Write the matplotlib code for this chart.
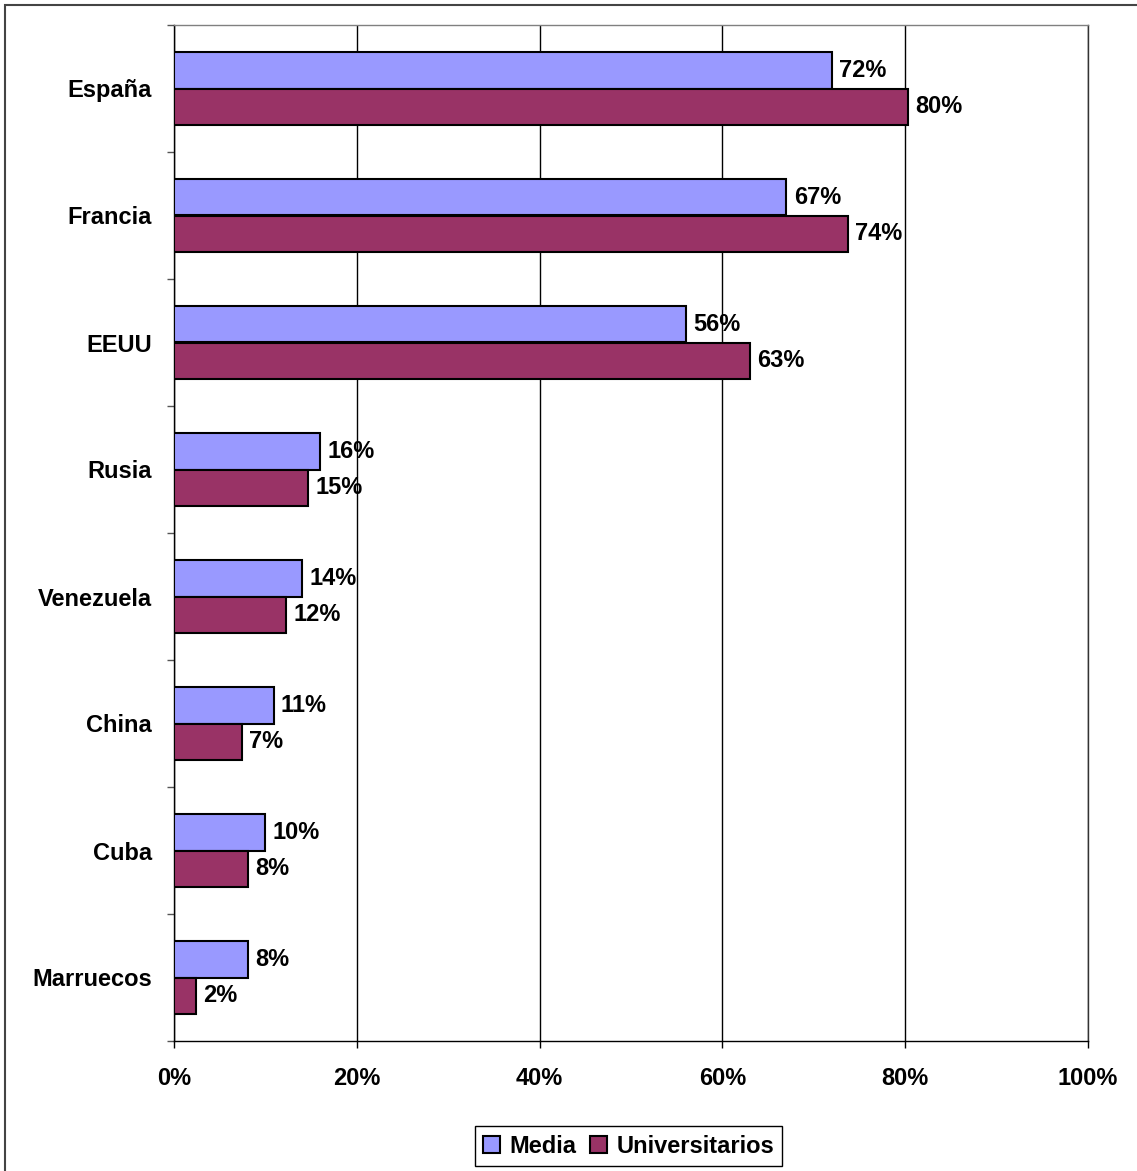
import matplotlib
matplotlib.use("Agg")
import matplotlib.pyplot as plt
import matplotlib.patches as mpatches
import numpy as np

plt.rcParams['font.family'] = ['Liberation Sans', 'DejaVu Sans']
plt.rcParams['font.weight'] = 'bold'

# data
paises = ['España', 'Francia', 'EEUU', 'Rusia', 'Venezuela', 'China', 'Cuba', 'Marruecos']
media = [72.0, 67.0, 56.0, 16.0, 14.0, 10.9, 10.0, 8.1]
universitarios = [80.3, 73.7, 63.0, 14.7, 12.3, 7.4, 8.1, 2.4]
xticks = [0, 20, 40, 60, 80, 100]

color_media = '#9999ff'
color_univ = '#993366'

fig = plt.figure(figsize=(11.37, 11.71), dpi=100)
ax = fig.add_axes([174 / 1137, 1 - 1041 / 1171, (1088 - 174) / 1137, (1041 - 25) / 1171])

y = np.arange(len(paises))
h = 0.29
b1 = ax.barh(y - h / 2, media, height=h, color=color_media, edgecolor='black', linewidth=1.5, zorder=3, label='Media')
b2 = ax.barh(y + h / 2, universitarios, height=h, color=color_univ, edgecolor='black', linewidth=1.5, zorder=3, label='Universitarios')

for i in range(len(paises)):
    ax.text(media[i] + 0.8, y[i] - h / 2, '%d%%' % round(media[i]), va='center', ha='left', fontsize=17, fontweight='bold')
    ax.text(universitarios[i] + 0.8, y[i] + h / 2, '%d%%' % round(universitarios[i]), va='center', ha='left', fontsize=17, fontweight='bold')

ax.set_xlim(0, 100)
ax.set_ylim(len(paises) - 0.5, -0.5)
ax.set_xticks(xticks)
ax.set_xticklabels(['%d%%' % v for v in xticks], fontsize=17, fontweight='bold')
ax.set_yticks(y)
ax.set_yticklabels(paises, fontsize=17, fontweight='bold')
ax.set_yticks(np.arange(-0.5, len(paises)), minor=True)
ax.tick_params(axis='y', which='major', length=0, pad=16)
ax.tick_params(axis='y', which='minor', length=5, width=1, color='#555555')
ax.tick_params(axis='x', which='major', length=5, width=1, pad=14)
ax.grid(axis='x', color='black', linewidth=1, zorder=0)
ax.set_axisbelow(True)

ax.spines['top'].set_color('#808080')
ax.spines['right'].set_color('#333333')
for s in ax.spines.values():
    s.set_linewidth(1)

fig.legend(handles=[b1, b2], loc='center', bbox_to_anchor=(0.553, 0.0213), ncol=2, fancybox=False,
           edgecolor='black', framealpha=1, fontsize=17, prop={'weight': 'bold', 'size': 17},
           handlelength=0.7, handleheight=0.7, handletextpad=0.4, columnspacing=0.6, borderpad=0.35)

# outer chart border
border = mpatches.Rectangle((5 / 1137, -0.1), 1.2, 1 - 5 / 1171 + 0.1, transform=fig.transFigure,
                            fill=False, edgecolor='#444444', linewidth=1.5)
fig.patches.append(border)

fig.savefig('out.png', dpi=100)
